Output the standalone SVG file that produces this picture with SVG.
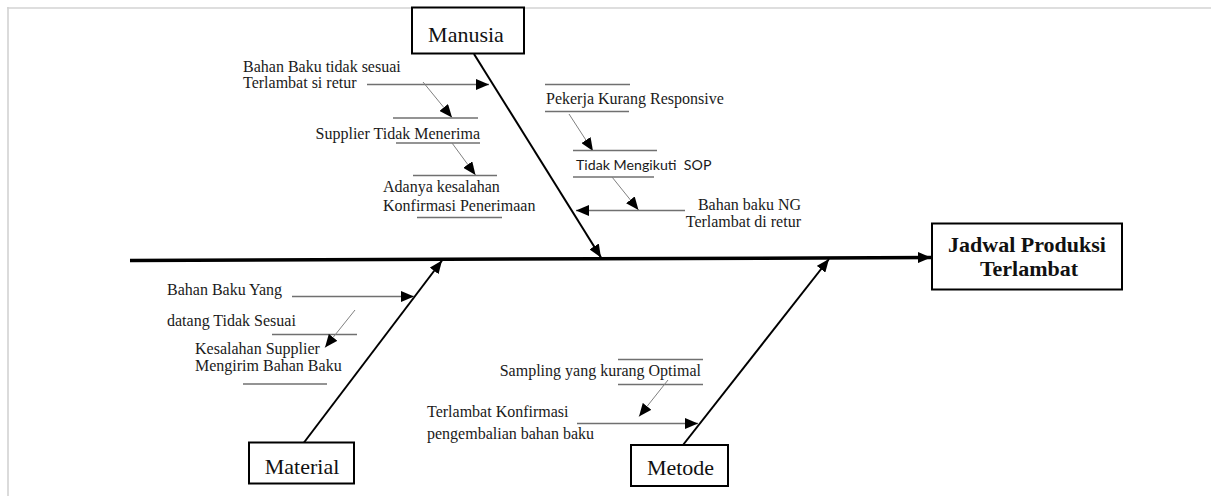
<svg xmlns="http://www.w3.org/2000/svg" width="1211" height="496" viewBox="0 0 1211 496">
  <style>
    .frame { stroke: #d3d3d3; stroke-width: 1.6; fill: none; }
    .box { fill: #fff; stroke: #000; stroke-width: 2; }
    .cat { font-family: "Liberation Serif", "Times New Roman", serif; font-size: 22px; fill: #111; }
    .effect { font-family: "Liberation Serif", "Times New Roman", serif; font-size: 22px; font-weight: bold; fill: #111; }
    .lbl { font-family: "Liberation Serif", "Times New Roman", serif; font-size: 16px; fill: #1a1a1a; }
    .lbl-sans { font-family: Lato, "Liberation Sans", sans-serif; font-size: 14.2px; fill: #1a1a1a; white-space: pre; }
    .spine { stroke: #000; stroke-width: 2; fill: none; }
    .head { stroke: #000; stroke-width: 3.5; fill: none; }
    .bone { stroke: #707070; stroke-width: 1.6; fill: none; }
    .twig { stroke: #808080; stroke-width: 1; fill: none; }
    .rule { stroke: #707070; stroke-width: 1.6; fill: none; }
  </style>
  <defs>
    <marker id="arrow" markerUnits="userSpaceOnUse" markerWidth="13" markerHeight="11" refX="13" refY="5.5" orient="auto">
      <path d="M0,0 L13,5.5 L0,11 z" fill="#000"/>
    </marker>
  </defs>

  <!-- page frame -->
  <path class="frame" d="M7,8 H1211 M8,7 V496"/>

  <!-- category boxes and effect box -->
  <g id="manusia">
    <rect class="box" x="412" y="7.5" width="112" height="46"/>
    <text class="cat" x="466" y="42" text-anchor="middle">Manusia</text>
  </g>
  <g id="material">
    <rect class="box" x="249" y="442.5" width="105" height="41"/>
    <text class="cat" x="302" y="473.5" text-anchor="middle">Material</text>
  </g>
  <g id="metode">
    <rect class="box" x="631" y="445" width="97" height="41"/>
    <text class="cat" x="680.5" y="474.5" text-anchor="middle">Metode</text>
  </g>
  <g id="jadwal-produksi">
    <rect class="box" x="932" y="223.5" width="190" height="66"/>
    <text class="effect" x="1027" y="251.5" text-anchor="middle">Jadwal Produksi</text>
    <text class="effect" x="1029" y="276" text-anchor="middle">Terlambat</text>
  </g>

  <!-- cause labels -->
  <g id="cause-bahan-baku-tidak-sesuai">
    <text class="lbl" x="243" y="71.5">Bahan Baku tidak sesuai</text>
    <text class="lbl" x="243" y="87.5">Terlambat si retur</text>
  </g>
  <g id="cause-supplier-tidak-menerima">
    <text class="lbl" x="480" y="139" text-anchor="end">Supplier Tidak Menerima</text>
  </g>
  <g id="cause-adanya-kesalahan">
    <text class="lbl" x="383" y="191.5">Adanya kesalahan</text>
    <text class="lbl" x="383" y="210.5">Konfirmasi Penerimaan</text>
  </g>
  <g id="cause-pekerja">
    <text class="lbl" x="546" y="103.5">Pekerja Kurang Responsive</text>
  </g>
  <g id="cause-sop">
    <text class="lbl-sans" x="576" y="170">Tidak Mengikuti  SOP</text>
  </g>
  <g id="cause-bahan-baku-ng">
    <text class="lbl" x="801" y="210" text-anchor="end">Bahan baku NG</text>
    <text class="lbl" x="801" y="226.5" text-anchor="end">Terlambat di retur</text>
  </g>
  <g id="cause-bahan-baku-yang">
    <text class="lbl" x="167" y="295">Bahan Baku Yang</text>
    <text class="lbl" x="167" y="326">datang Tidak Sesuai</text>
  </g>
  <g id="cause-kesalahan-supplier">
    <text class="lbl" x="195" y="353.5">Kesalahan Supplier</text>
    <text class="lbl" x="195" y="371">Mengirim Bahan Baku</text>
  </g>
  <g id="cause-sampling">
    <text class="lbl" x="701" y="376" text-anchor="end">Sampling yang kurang Optimal</text>
  </g>
  <g id="cause-terlambat-konfirmasi">
    <text class="lbl" x="427" y="416.5">Terlambat Konfirmasi</text>
    <text class="lbl" x="427" y="438.5">pengembalian bahan baku</text>
  </g>

  <!-- connectors -->
  <g id="connectors">
    <!-- main backbone into the effect -->
    <line class="head" x1="130" y1="260.5" x2="931" y2="257.5" marker-end="url(#arrow)"/>
    <!-- category spines -->
    <line class="spine" x1="474" y1="54" x2="601" y2="257.5" marker-end="url(#arrow)"/>
    <line class="spine" x1="304" y1="442.5" x2="442" y2="260.5" marker-end="url(#arrow)"/>
    <line class="spine" x1="683" y1="445" x2="829" y2="259" marker-end="url(#arrow)"/>

    <!-- Manusia causes -->
    <line class="bone" x1="367" y1="84.5" x2="489" y2="84.5" marker-end="url(#arrow)"/>
    <line class="twig" x1="423" y1="82" x2="452" y2="117.5" marker-end="url(#arrow)"/>
    <line class="rule" x1="393" y1="118" x2="478" y2="118"/>
    <line class="rule" x1="396" y1="143" x2="480" y2="143"/>
    <line class="twig" x1="452" y1="143" x2="475.5" y2="175" marker-end="url(#arrow)"/>
    <line class="rule" x1="413" y1="175.5" x2="497" y2="175.5"/>
    <line class="rule" x1="417" y1="217.5" x2="502" y2="217.5"/>

    <line class="rule" x1="545" y1="84.5" x2="630" y2="84.5"/>
    <line class="rule" x1="545" y1="111.5" x2="629" y2="111.5"/>
    <line class="twig" x1="569" y1="114" x2="593" y2="151" marker-end="url(#arrow)"/>
    <line class="rule" x1="573" y1="150.5" x2="657" y2="150.5"/>
    <line class="rule" x1="573" y1="177" x2="654" y2="177"/>
    <line class="twig" x1="612" y1="177" x2="638.5" y2="210" marker-end="url(#arrow)"/>
    <line class="bone" x1="685" y1="210.5" x2="576" y2="210.5" marker-end="url(#arrow)"/>

    <!-- Material causes -->
    <line class="bone" x1="292" y1="296.5" x2="414" y2="296.5" marker-end="url(#arrow)"/>
    <line class="rule" x1="272" y1="334.5" x2="357" y2="334.5"/>
    <line class="twig" x1="355" y1="310" x2="325" y2="347.5" marker-end="url(#arrow)"/>
    <line class="rule" x1="243" y1="384" x2="327" y2="384"/>

    <!-- Metode causes -->
    <line class="rule" x1="618" y1="359.5" x2="703" y2="359.5"/>
    <line class="rule" x1="618" y1="384.5" x2="703" y2="384.5"/>
    <line class="twig" x1="668" y1="380" x2="639" y2="416.5" marker-end="url(#arrow)"/>
    <line class="bone" x1="577" y1="423.5" x2="698" y2="423.5" marker-end="url(#arrow)"/>
  </g>
</svg>
